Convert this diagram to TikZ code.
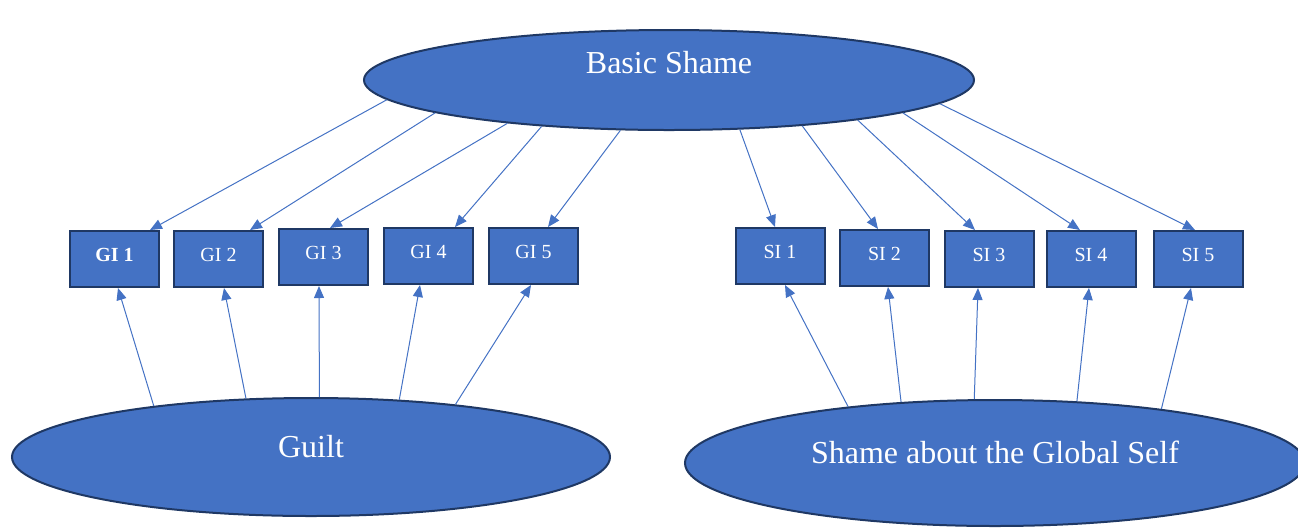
\documentclass[tikz,border=0pt]{standalone}
\usepackage{fontspec}
\setmainfont{Liberation Serif}
\usetikzlibrary{shapes.geometric, arrows.meta}
\definecolor{shapeblue}{HTML}{4472C4}
\definecolor{edgenavy}{HTML}{1F3864}

\begin{document}
\begin{tikzpicture}[
        x=0.5pt, y=-0.5pt,
        oval/.style = {ellipse, draw=edgenavy, line width=1pt, fill=shapeblue, text=white, inner sep=0pt, text height=0pt, text depth=0pt, font=\fontsize{16}{19}\selectfont},
        item/.style = {rectangle, draw=edgenavy, line width=1pt, fill=shapeblue, text=white, minimum width=44.5pt, minimum height=28pt, inner sep=0pt, text depth=4pt, font=\fontsize{10}{12}\selectfont},
        link/.style = {draw=shapeblue, line width=0.5pt, -{Triangle[length=6pt, width=5pt]}}
    ]
        \useasboundingbox (0,0) rectangle (1298,527);

        % Factors
        \node[oval, minimum width=305pt, minimum height=50pt, text depth=7pt] (basic) at (669,80) {Basic Shame};
        \node[oval, minimum width=299pt, minimum height=59pt] (guilt) at (311,457) {Guilt};
        \node[oval, minimum width=310pt, minimum height=63pt] (global) at (995,463) {Shame about the Global Self};

        % Guilt items
        \node[item] (gi1) at (114.5,259) {\textbf{GI 1}};
        \node[item] (gi2) at (218.5,259) {GI 2};
        \node[item] (gi3) at (323.5,257) {GI 3};
        \node[item] (gi4) at (428.5,256) {GI 4};
        \node[item] (gi5) at (533.5,256) {GI 5};

        % Shame items
        \node[item] (si1) at (780,256) {SI 1};
        \node[item] (si2) at (884.5,258) {SI 2};
        \node[item] (si3) at (989,259) {SI 3};
        \node[item] (si4) at (1091,259) {SI 4};
        \node[item] (si5) at (1198,259) {SI 5};

        % Arrows from Basic Shame
        \draw[link] (basic.184.4) -- ([xshift=17.75pt]gi1.north);
        \draw[link] (basic.188.2) -- ([xshift=15.75pt]gi2.north);
        \draw[link] (basic.195.1) -- ([xshift=3.25pt]gi3.north);
        \draw[link] (basic.200.8) -- ([xshift=13.25pt]gi4.north);
        \draw[link] (basic.226.7) -- ([xshift=7.25pt]gi5.north);
        \draw[link] (basic.325.1) -- ([xshift=-2.5pt]si1.north);
        \draw[link] (basic.341.9) -- ([xshift=-3.25pt]si2.north);
        \draw[link] (basic.348) -- ([xshift=-7pt]si3.north);
        \draw[link] (basic.352.5) -- ([xshift=-5.5pt]si4.north);
        \draw[link] (basic.355.9) -- ([xshift=-1.5pt]si5.north);

        % Arrows from Guilt
        \draw[link] (guilt.162.4) -- ([xshift=1.75pt]gi1.south);
        \draw[link] (guilt.138.2) -- ([xshift=2.75pt]gi2.south);
        \draw[link] (guilt.82.8) -- ([xshift=-2.25pt]gi3.south);
        \draw[link] (guilt.33.2) -- ([xshift=-4.25pt]gi4.south);
        \draw[link] (guilt.20.2) -- ([xshift=-1.25pt]gi5.south);

        % Arrows from Shame about the Global Self
        \draw[link] (global.159.2) -- ([xshift=2.5pt]si1.south);
        \draw[link] (global.147.3) -- ([xshift=1.75pt]si2.south);
        \draw[link] (global.108.7) -- ([xshift=-5.5pt]si3.south);
        \draw[link] (global.37.6) -- ([xshift=-1pt]si4.south);
        \draw[link] (global.18.3) -- ([xshift=-3.5pt]si5.south);
    \end{tikzpicture}
\end{document}
